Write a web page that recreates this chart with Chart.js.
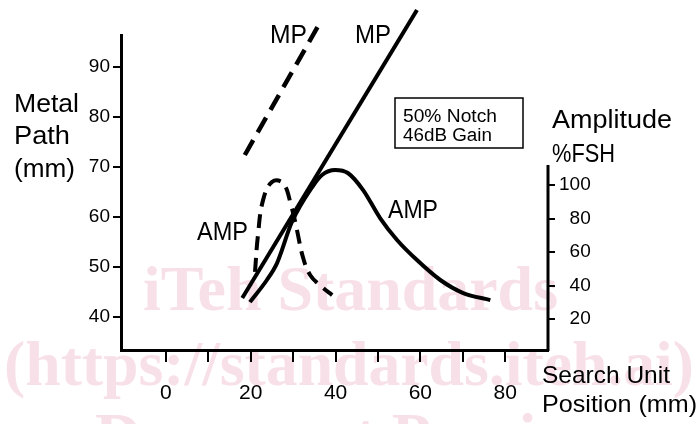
<!DOCTYPE html>
<html>
<head>
<meta charset="utf-8">
<script src="https://cdn.jsdelivr.net/npm/chart.js@4"></script>
<style>
  html, body { margin: 0; padding: 0; background: #fff; }
  #wrap { width: 697px; height: 424px; }
</style>
</head>
<body>
<div id="wrap"><canvas id="myChart" width="697" height="424"></canvas></div>
<script>
// search unit position (mm) and values
let mpSolidX = [18, 59.2]
let mpSolidY = [43.8, 101.4]
let mpDashX = [18.6, 36.3]
let mpDashY = [72.4, 98.8]
let ampSolidX = [19.8, 23.8, 26.2, 29.7, 34.5, 36.8, 39.9, 42.9, 46.5, 50.5, 54.5, 59.2, 64.7, 70.1, 76.5]
let ampSolidY = [30.1, 43.3, 53.4, 77.9, 98.8, 106, 109, 107.2, 97, 80.3, 67.2, 55.2, 43.3, 35.5, 31.3]
let ampDashX = [21, 21.7, 22.9, 25, 27.6, 29.5, 30.9, 32.3, 34, 36.8, 39.2]
let ampDashY = [48.1, 70.1, 91, 101.8, 101.2, 88, 73.1, 57, 46.3, 39.1, 34.3]

let xTicks = [0, 10, 20, 30, 40, 50, 60, 70, 80]
let xLabels = ['0', '', '20', '', '40', '', '60', '', '80']
let mpTicks = [40, 50, 60, 70, 80, 90]
let ampTicks = [20, 40, 60, 80, 100]

let pts = (xs, ys) => xs.map((x, i) => ({ x: x, y: ys[i] }))

// text squeezed/stretched to the width seen in the scan
function label(c, str, x, base, size, w) {
    c.font = size + 'px "Liberation Sans"'
    let m = c.measureText(str).width
    c.save()
    c.translate(x, base)
    c.scale(w / m, 1)
    c.fillText(str, 0, 0)
    c.restore()
}

let texts = {
    id: 'texts',
    beforeDraw(chart) {
        let c = chart.ctx
        c.save()
        c.fillStyle = '#f8e0e8'
        c.font = 'bold 64px "Liberation Serif"'
        c.textBaseline = 'alphabetic'
        c.fillText('iTeh Standards', 143, 310, 415)
        c.fillText('(https://standards.iteh.ai)', 4, 385, 690)
        c.fillText('Document Preview', 95, 457, 520)
        c.restore()
    },
    afterDraw(chart) {
        let c = chart.ctx
        let y1 = chart.scales.y1
        c.save()
        // short right axis
        c.strokeStyle = '#000'
        c.lineWidth = 3
        c.beginPath()
        c.moveTo(548, y1.getPixelForValue(112))
        c.lineTo(548, chart.chartArea.bottom + 1)
        c.stroke()

        c.fillStyle = '#000'
        c.textBaseline = 'alphabetic'
        label(c, 'Metal', 14, 112, 26, 65)
        label(c, 'Path', 14, 144, 26, 56)
        label(c, '(mm)', 14, 177, 26, 61)
        label(c, 'MP', 270, 43, 25, 37)
        label(c, 'MP', 355, 43, 25, 36)
        label(c, 'AMP', 197, 240, 25, 51)
        label(c, 'AMP', 388, 218, 25, 50)
        label(c, 'Amplitude', 552, 128, 25, 120)
        label(c, '%FSH', 552, 162, 26, 63)
        label(c, 'Search Unit', 542, 383, 24, 128)
        label(c, 'Position (mm)', 542, 412, 24, 155)

        c.lineWidth = 1.5
        c.strokeRect(395, 98, 128, 50)
        label(c, '50% Notch', 403, 122, 18, 94)
        label(c, '46dB Gain', 403, 141, 18, 89)
        c.restore()
    }
}

let ctx = document.getElementById('myChart').getContext('2d')

let myChart = new Chart(ctx, {
    type: 'line',
    data: {
        datasets: [
            { label: 'MP', data: pts(mpSolidX, mpSolidY), yAxisID: 'y', borderColor: '#000', borderWidth: 4, pointRadius: 0, clip: false },
            { label: 'MP dashed', data: pts(mpDashX, mpDashY), yAxisID: 'y', borderColor: '#000', borderWidth: 4.5, borderDash: [17, 9], pointRadius: 0, clip: false },
            { label: 'AMP', data: pts(ampSolidX, ampSolidY), yAxisID: 'y1', borderColor: '#000', borderWidth: 4, pointRadius: 0, cubicInterpolationMode: 'monotone', clip: false },
            { label: 'AMP dashed', data: pts(ampDashX, ampDashY), yAxisID: 'y1', borderColor: '#000', borderWidth: 4, borderDash: [14, 8], pointRadius: 0, tension: 0.4, clip: false }
        ]
    },
    options: {
        responsive: false,
        animation: false,
        layout: { padding: { top: 35, left: 0, right: 0, bottom: 0 } },
        plugins: { legend: { display: false }, tooltip: { enabled: false } },
        scales: {
            x: {
                type: 'linear', position: 'bottom', min: -10.6, max: 90.1,
                afterBuildTicks: s => { s.ticks = xTicks.map(v => ({ value: v })) },
                afterFit: s => { s.height = 74 },
                grid: { drawOnChartArea: false, color: '#000', lineWidth: 2, tickLength: 12 },
                border: { color: '#000', width: 3 },
                ticks: { color: '#000', font: { family: 'Liberation Sans', size: 21 }, padding: 19, maxRotation: 0,
                    callback: v => xLabels[xTicks.indexOf(v)] }
            },
            y: {
                type: 'linear', position: 'left', min: 33.4, max: 96.4,
                afterBuildTicks: s => { s.ticks = mpTicks.map(v => ({ value: v })) },
                afterFit: s => { s.width = 121 },
                grid: { drawOnChartArea: false, color: '#000', lineWidth: 2, tickLength: 8 },
                border: { color: '#000', width: 3 },
                ticks: { color: '#000', font: { family: 'Liberation Sans', size: 19 }, padding: 3 }
            },
            y1: {
                type: 'linear', position: 'right', min: 1.5, max: 189.6,
                afterBuildTicks: s => { s.ticks = ampTicks.map(v => ({ value: v })) },
                afterFit: s => { s.width = 149 },
                grid: { drawOnChartArea: false, color: '#000', lineWidth: 2, tickLength: 7 },
                border: { display: false },
                ticks: { color: '#000', font: { family: 'Liberation Sans', size: 19 }, padding: 4,
                    callback: v => (v < 100 ? '\u2007' : '') + v }
            }
        }
    },
    plugins: [texts]
})
</script>
</body>
</html>
